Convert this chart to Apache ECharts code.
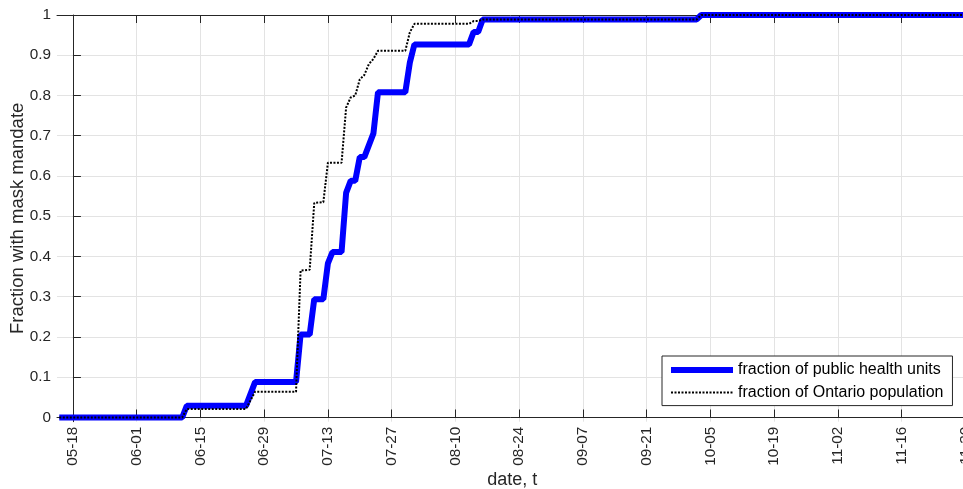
<!DOCTYPE html>
<html>
<head>
<meta charset="utf-8">
<script src="https://cdn.jsdelivr.net/npm/echarts@6/dist/echarts.min.js"></script>
<style>html,body{margin:0;padding:0;background:#fff}#c{width:963px;height:489px}</style>
</head>
<body>
<div id="c"></div>
<script>
// x values: days after 2020-05-18
const tickDays = [0, 14, 28, 42, 56, 70, 84, 98, 112, 126, 140, 154, 168, 182, 196];
const tickLabels = ['05-18','06-01','06-15','06-29','07-13','07-27','08-10','08-24','09-07','09-21','10-05','10-19','11-02','11-16','11-30'];
const yTicks = [0, 0.1, 0.2, 0.3, 0.4, 0.5, 0.6, 0.7, 0.8, 0.9, 1];
const yTickLabels = ['0','0.1','0.2','0.3','0.4','0.5','0.6','0.7','0.8','0.9','1'];

const seriesNames = ['fraction of public health units', 'fraction of Ontario population'];

const phuDays = [-3,24,25,38,40,49,50,52,53,55,56,57,59,60,61,62,63,64,66,67,73,74,75,87,88,89,90,137,138,200];
const phuFrac = [0,0,0.029,0.029,0.088,0.088,0.206,0.206,0.294,0.294,0.383,0.411,0.411,0.558,0.588,0.588,0.647,0.647,0.706,0.808,0.808,0.882,0.927,0.927,0.958,0.958,0.989,0.989,1,1];

const popDays = [-3,24,25,38,40,49,50,52,53,55,56,59,60,61,62,63,64,65,66,67,73,74,75,87,88,89,90,137,138,200];
const popFrac = [0,0,0.021,0.021,0.064,0.064,0.365,0.367,0.533,0.535,0.633,0.633,0.77,0.795,0.80,0.84,0.851,0.878,0.891,0.911,0.911,0.957,0.978,0.978,0.985,0.985,0.989,0.989,1,1];

const FONT = 'Liberation Sans, Arial, Helvetica, sans-serif';
const AX = '#262626';

const chart = echarts.init(document.getElementById('c'), null, {renderer: 'canvas'});
const xBase = {
  type: 'value', min: -3.5, max: 196.5,
  axisLine: {show: true, lineStyle: {color: AX, width: 1}},
};
chart.setOption({
  animation: false,
  backgroundColor: '#fff',
  grid: {left: 57, right: -4.6, top: 15, bottom: 67.3, containLabel: false, outerBoundsMode: 'none'},
  legend: {
    orient: 'vertical', left: 662, top: 356,
    padding: [5, 9, 4, 6], itemGap: 4.6, itemWidth: 62, itemHeight: 18,
    backgroundColor: '#fff', borderColor: AX, borderWidth: 1,
    itemStyle: {opacity: 0},
    textStyle: {fontFamily: FONT, fontSize: 16, color: '#000', lineHeight: 18},
    data: [
      {name: seriesNames[0], itemStyle: {opacity: 0}, lineStyle: {width: 6, color: '#0000ff'}},
      {name: seriesNames[1], itemStyle: {opacity: 0}, lineStyle: {width: 2, color: '#000', type: [2, 1.5]}}
    ]
  },
  xAxis: [
    Object.assign({}, xBase, {
      position: 'bottom',
      name: 'date, t', nameLocation: 'middle', nameGap: 49, nameMoveOverlap: false,
      nameTextStyle: {fontFamily: FONT, fontSize: 18, color: AX},
      axisTick: {show: true, inside: true, length: 8, lineStyle: {color: AX}, customValues: tickDays},
      axisLabel: {show: true, rotate: 90, margin: 5, fontFamily: FONT, fontSize: 15.3, color: AX,
        customValues: tickDays, hideOverlap: false,
        formatter: v => { const i = tickDays.indexOf(Math.round(v)); return i >= 0 ? tickLabels[i] : ''; }},
      splitLine: {show: true, lineStyle: {color: '#e3e3e3', width: 1}}
    }),
    Object.assign({}, xBase, {
      position: 'top',
      axisTick: {show: true, inside: true, length: 8, lineStyle: {color: AX}, customValues: tickDays},
      axisLabel: {show: false, customValues: tickDays},
      splitLine: {show: false}
    })
  ],
  yAxis: {
    type: 'value', min: -0.0105, max: 1,
    name: 'Fraction with mask mandate', nameLocation: 'middle', nameGap: 30, nameMoveOverlap: false,
    nameTextStyle: {fontFamily: FONT, fontSize: 18.5, color: AX},
    axisLine: {show: true, lineStyle: {color: AX, width: 1}},
    axisTick: {show: true, inside: true, length: 8, lineStyle: {color: AX}, customValues: yTicks},
    axisLabel: {show: true, margin: 6, fontFamily: FONT, fontSize: 15.3, color: AX, customValues: yTicks,
      formatter: v => { const i = yTicks.findIndex(t => Math.abs(t - v) < 1e-6); return i >= 0 ? yTickLabels[i] : ''; }},
    splitLine: {show: true, lineStyle: {color: '#e3e3e3', width: 1}}
  },
  series: [
    {
      name: seriesNames[0], type: 'line', xAxisIndex: 0, symbol: 'none', showSymbol: false,
      data: phuDays.map((d, i) => [d, phuFrac[i]]),
      lineStyle: {color: '#0000ff', width: 6}, itemStyle: {color: '#0000ff'}, z: 2
    },
    {
      name: seriesNames[1], type: 'line', xAxisIndex: 0, symbol: 'none', showSymbol: false,
      data: popDays.map((d, i) => [d, popFrac[i]]),
      lineStyle: {color: '#000', width: 2, type: [2, 1.5]}, itemStyle: {color: '#000'}, z: 3
    }
  ]
});
</script>
</body>
</html>
